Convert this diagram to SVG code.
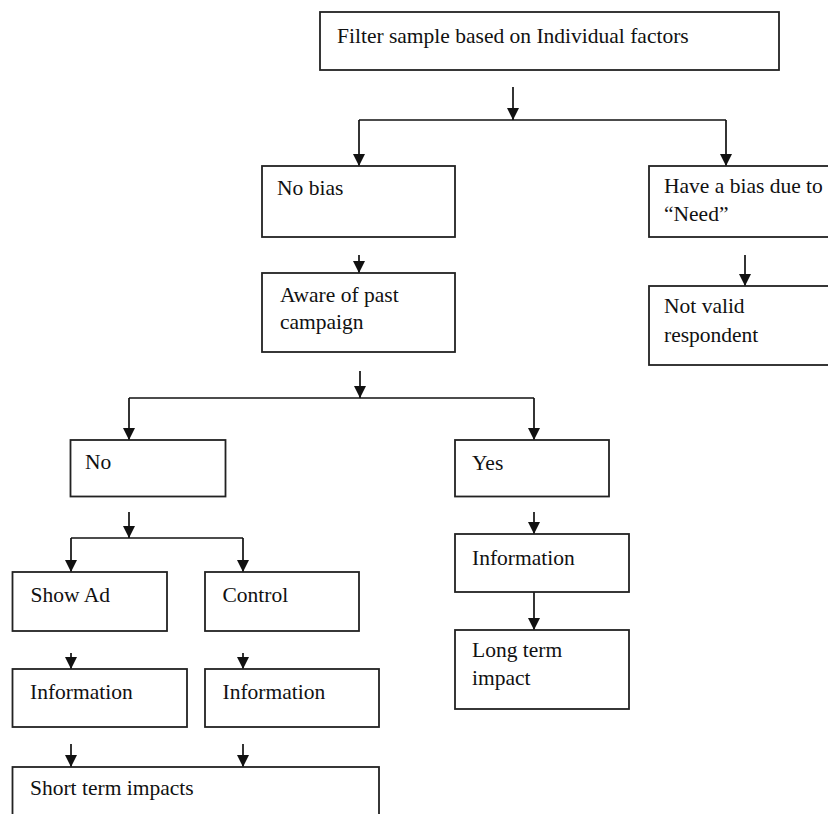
<svg xmlns="http://www.w3.org/2000/svg" width="828" height="814" viewBox="0 0 828 814">
  <style>
    .box { fill: #ffffff; stroke: #222222; stroke-width: 1.8; }
    .lbl { font-family: "Liberation Serif", "Times New Roman", serif; font-size: 21.5px; fill: #111111; }
    .edge { fill: none; stroke: #111111; stroke-width: 1.7; }
    .arr { marker-end: url(#ah); }
  </style>
  <defs>
    <marker id="ah" viewBox="0 0 10 10" refX="10" refY="5" markerWidth="12" markerHeight="12" markerUnits="userSpaceOnUse" orient="auto">
      <path d="M0,0 L10,5 L0,10 z" fill="#111111"/>
    </marker>
  </defs>
  <rect width="828" height="814" fill="#ffffff"/>

  <g id="connectors">
    <line class="edge arr" x1="513" y1="87" x2="513" y2="120"/>
    <polyline class="edge" points="359,120 726,120"/>
    <line class="edge arr" x1="359" y1="120" x2="359" y2="166"/>
    <line class="edge arr" x1="726" y1="120" x2="726" y2="166"/>
    <line class="edge arr" x1="359" y1="255" x2="359" y2="273"/>
    <line class="edge arr" x1="745" y1="255" x2="745" y2="286"/>
    <line class="edge arr" x1="360" y1="371" x2="360" y2="398"/>
    <polyline class="edge" points="129,398 534,398"/>
    <line class="edge arr" x1="129" y1="398" x2="129" y2="440"/>
    <line class="edge arr" x1="534" y1="398" x2="534" y2="440"/>
    <line class="edge arr" x1="129" y1="512" x2="129" y2="538"/>
    <polyline class="edge" points="71,538 243,538"/>
    <line class="edge arr" x1="71" y1="538" x2="71" y2="572"/>
    <line class="edge arr" x1="243" y1="538" x2="243" y2="572"/>
    <line class="edge arr" x1="534" y1="512" x2="534" y2="534"/>
    <line class="edge arr" x1="534" y1="592" x2="534" y2="630"/>
    <line class="edge arr" x1="71" y1="653" x2="71" y2="669"/>
    <line class="edge arr" x1="243" y1="653" x2="243" y2="669"/>
    <line class="edge arr" x1="71" y1="744" x2="71" y2="767"/>
    <line class="edge arr" x1="243" y1="744" x2="243" y2="767"/>
  </g>

  <g id="filter">
    <rect class="box" x="320" y="12" width="459" height="58"/>
    <text class="lbl" x="337" y="43">Filter sample based on Individual factors</text>
  </g>
  <g id="no-bias">
    <rect class="box" x="262" y="166" width="193" height="71"/>
    <text class="lbl" x="277" y="195">No bias</text>
  </g>
  <g id="have-bias">
    <rect class="box" x="649" y="166" width="200" height="71"/>
    <text class="lbl" x="664" y="193">Have a bias due to</text>
    <text class="lbl" x="664" y="221">“Need”</text>
  </g>
  <g id="aware">
    <rect class="box" x="262" y="273" width="193" height="79"/>
    <text class="lbl" x="280" y="302">Aware of past</text>
    <text class="lbl" x="280" y="329">campaign</text>
  </g>
  <g id="not-valid">
    <rect class="box" x="649" y="286" width="200" height="79"/>
    <text class="lbl" x="664" y="313">Not valid</text>
    <text class="lbl" x="664" y="342">respondent</text>
  </g>
  <g id="no">
    <rect class="box" x="70.5" y="440" width="155" height="56.5"/>
    <text class="lbl" x="85" y="469">No</text>
  </g>
  <g id="yes">
    <rect class="box" x="455" y="440" width="154" height="56.5"/>
    <text class="lbl" x="472" y="470">Yes</text>
  </g>
  <g id="show-ad">
    <rect class="box" x="12.5" y="572" width="154.5" height="59"/>
    <text class="lbl" x="30.5" y="602">Show Ad</text>
  </g>
  <g id="control">
    <rect class="box" x="205" y="572" width="154" height="59"/>
    <text class="lbl" x="222.5" y="602">Control</text>
  </g>
  <g id="info-ad">
    <rect class="box" x="12.5" y="669" width="174.5" height="58"/>
    <text class="lbl" x="30" y="699">Information</text>
  </g>
  <g id="info-control">
    <rect class="box" x="205" y="669" width="174" height="58"/>
    <text class="lbl" x="222.5" y="699">Information</text>
  </g>
  <g id="info-yes">
    <rect class="box" x="455" y="534" width="174" height="58"/>
    <text class="lbl" x="472" y="565">Information</text>
  </g>
  <g id="long-term">
    <rect class="box" x="455" y="630" width="174" height="79"/>
    <text class="lbl" x="472" y="657">Long term</text>
    <text class="lbl" x="472" y="685">impact</text>
  </g>
  <g id="short-term">
    <rect class="box" x="12.5" y="767" width="366.5" height="70"/>
    <text class="lbl" x="30" y="795">Short term impacts</text>
  </g>
</svg>
